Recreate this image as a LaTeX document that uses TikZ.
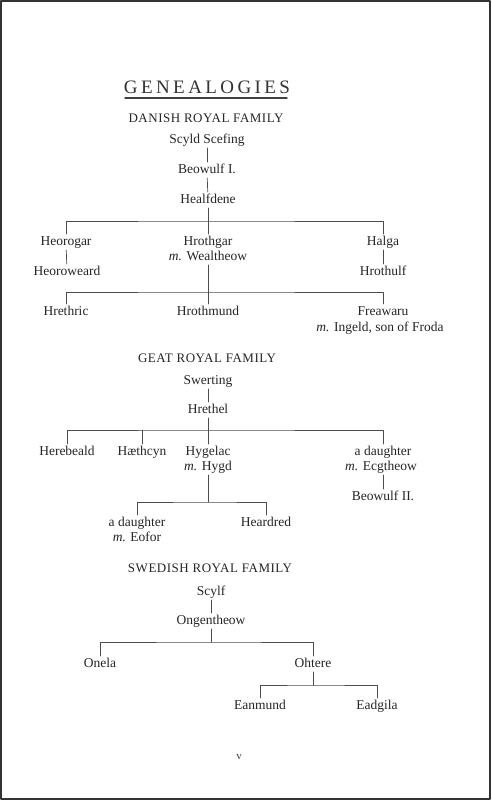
\documentclass[tikz,border=0pt]{standalone}
\usepackage{fontspec}
\setmainfont{Liberation Serif}
\newfontfamily\titlefont[LetterSpace=18]{Liberation Serif}
\newfontfamily\headfont[LetterSpace=4]{Liberation Serif}
\tikzset{
  person/.style={font=\fontsize{13.5}{15}\selectfont, text=black!85,
    inner sep=1.5pt, text height=9.5pt, text depth=3pt},
  family/.style={font=\headfont\fontsize{13}{15}\selectfont, text=black!85},
  line/.style={draw=black!70, line width=0.7pt}
}
\begin{document}
\begin{tikzpicture}[x=1pt,y=-1pt,line cap=round,line join=round]
\useasboundingbox (0,0) rectangle (491,800);
\fill[white] (0,0) rectangle (491,800);
\draw[line width=2pt, black!80] (1,1) rectangle (490,799);
% title
\node[font=\titlefont\fontsize{19}{21}\selectfont, text=black!80] (title) at (207,87) {GENEALOGIES};
\draw[line width=1.4pt, black!75] (125,98) -- (287,98);
% danish royal family
\node[family] (danish) at (206,118) {DANISH ROYAL FAMILY};
\node[person] (scyld) at (207,140) {Scyld Scefing};
\node[person] (beowulfa) at (207,170) {Beowulf I.};
\node[person] (healfdene) at (208,200) {Healfdene};
\node[person] (heorogar) at (66,242) {Heorogar};
\node[person] (hrothgar) at (208,242) {Hrothgar};
\node[person] (wealtheow) at (208,257) {\textit{m.} Wealtheow};
\node[person] (halga) at (383,242) {Halga};
\node[person] (heoroweard) at (67,272) {Heoroweard};
\node[person] (hrothulf) at (383,272) {Hrothulf};
\node[person] (hrethric) at (66,312) {Hrethric};
\node[person] (hrothmund) at (208,312) {Hrothmund};
\node[person] (freawaru) at (383,312) {Freawaru};
\node[person] (ingeld) at (380,328) {\textit{m.} Ingeld, son of Froda};
\coordinate (danbar) at (208,221);
\coordinate (hrobar) at (208,292);
\draw[line] (scyld) -- (beowulfa);
\draw[line] (beowulfa) -- (healfdene);
\draw[line] (healfdene) -- (hrothgar);
\draw[line] (heorogar.north) |- (danbar) -| (halga.north);
\draw[line] (heorogar) -- (heoroweard);
\draw[line] (halga) -- (hrothulf);
\draw[line] (wealtheow) -- (hrothmund);
\draw[line] (hrethric.north) |- (hrobar) -| (freawaru.north);
% geat royal family
\node[family] (geat) at (207,358) {GEAT ROYAL FAMILY};
\node[person] (swerting) at (208,381) {Swerting};
\node[person] (hrethel) at (208,410) {Hrethel};
\node[person] (herebeald) at (67,452) {Herebeald};
\node[person] (haethcyn) at (142,452) {Hæthcyn};
\node[person] (hygelac) at (208,452) {Hygelac};
\node[person] (hygd) at (208,467) {\textit{m.} Hygd};
\node[person] (daughtera) at (383,452) {a daughter};
\node[person] (ecgtheow) at (381,467) {\textit{m.} Ecgtheow};
\node[person] (beowulfb) at (383,497) {Beowulf II.};
\node[person] (daughterb) at (137,523) {a daughter};
\node[person] (eofor) at (137,538) {\textit{m.} Eofor};
\node[person] (heardred) at (266,523) {Heardred};
\coordinate (geatbar) at (208,430);
\coordinate (hygbar) at (208,502);
\draw[line] (swerting) -- (hrethel);
\draw[line] (hrethel) -- (hygelac);
\draw[line] (herebeald.north) |- (geatbar) -| (daughtera.north);
\draw[line] (haethcyn.north) -- (haethcyn.north |- geatbar);
\draw[line] (ecgtheow.south -| beowulfb) -- (beowulfb);
\draw[line] (hygd) -- (hygbar);
\draw[line] (daughterb.north) |- (hygbar) -| (heardred.north);
% swedish royal family
\node[family] (swedish) at (210,568) {SWEDISH ROYAL FAMILY};
\node[person] (scylf) at (211,592) {Scylf};
\node[person] (ongentheow) at (211,621) {Ongentheow};
\node[person] (onela) at (100,664) {Onela};
\node[person] (ohtere) at (313,664) {Ohtere};
\node[person] (eanmund) at (260,706) {Eanmund};
\node[person] (eadgila) at (377,706) {Eadgila};
\coordinate (swebar) at (211,642);
\coordinate (ohtbar) at (313,685);
\draw[line] (scylf) -- (ongentheow);
\draw[line] (ongentheow) -- (swebar);
\draw[line] (onela.north) |- (swebar) -| (ohtere.north);
\draw[line] (ohtere) -- (ohtbar);
\draw[line] (eanmund.north) |- (ohtbar) -| (eadgila.north);
% page number
\node[font=\fontsize{11}{13}\selectfont, text=black!75] (pagenum) at (239,757) {v};
\end{tikzpicture}
\end{document}
